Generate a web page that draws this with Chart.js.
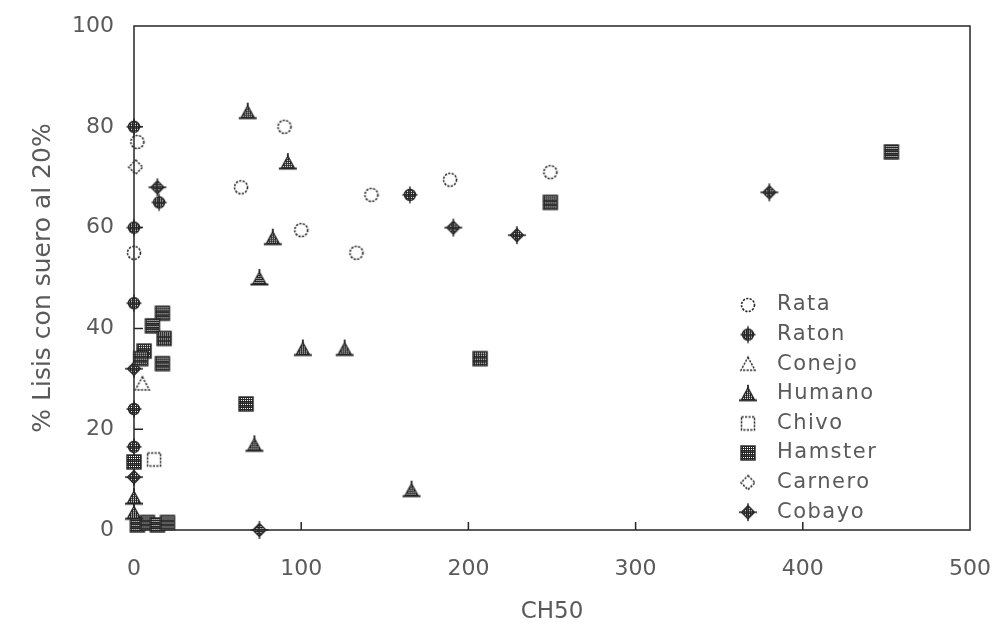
<!DOCTYPE html>
<html>
<head>
<meta charset="utf-8">
<script src="https://cdn.jsdelivr.net/npm/chart.js@4.4.1/dist/chart.umd.min.js"></script>
<style>
  html, body { margin: 0; padding: 0; background: #ffffff; }
  #wrap { width: 1002px; height: 634px; position: relative; }
</style>
</head>
<body>
<div id="wrap"><canvas id="c" width="1002" height="634"></canvas></div>
<script>
// ---- data ----
const seriesLabels = ['Rata', 'Raton', 'Conejo', 'Humano', 'Chivo', 'Hamster', 'Carnero', 'Cobayo'];

const rataX = [0, 2, 64, 90, 100, 133, 142, 189, 249];
const rataY = [55, 77, 68, 80, 59.5, 55, 66.5, 69.5, 71];

const ratonX = [0, 0, 15, 0, 0, 0, 165];
const ratonY = [80, 60, 65, 45, 24, 16.5, 66.5];

const conejoX = [5];
const conejoY = [29];

const humanoX = [68, 92, 83, 75, 101, 126, 72, 166, 0, 0];
const humanoY = [83, 73, 58, 50, 36, 36, 17, 8, 6.5, 3.5];

const chivoX = [12];
const chivoY = [14];

const hamsterX = [453, 249, 207, 67, 17, 11, 18, 6, 17, 4, 0, 2, 8, 14, 20];
const hamsterY = [75, 65, 34, 25, 43, 40.5, 38, 35.5, 33, 34, 13.5, 1, 1.5, 1, 1.5];

const carneroX = [1];
const carneroY = [72];

const cobayoX = [14, 0, 0, 75, 191, 229, 380];
const cobayoY = [68, 32, 10.5, 0, 60, 58.5, 67];

const xTicks = [0, 100, 200, 300, 400, 500];
const yTicks = [0, 20, 40, 60, 80, 100];

const xTitle = 'CH50';
const yTitle = '% Lisis con suero al 20%';

// ---- marker glyphs ----
const ink = '#262626';
function hatch(g) {
  const p = document.createElement('canvas');
  p.width = p.height = 2;
  const q = p.getContext('2d');
  q.fillStyle = '#ffffff'; q.fillRect(0, 0, 2, 2);
  q.fillStyle = ink; q.fillRect(0, 0, 1, 1); q.fillRect(1, 1, 1, 1); q.fillRect(1, 0, 1, 1);
  return g.createPattern(p, 'repeat');
}
function glyph(draw) {
  const s = 22, c = s / 2;
  const cv = document.createElement('canvas');
  cv.width = cv.height = s;
  const g = cv.getContext('2d');
  g.strokeStyle = ink; g.lineWidth = 1.4;
  draw(g, c);
  return cv;
}
const dash = [2.2, 1.3];
const glyphs = {
  Rata: glyph((g, c) => { g.setLineDash(dash); g.lineWidth = 1.6; g.beginPath(); g.arc(c, c, 6.5, 0, Math.PI * 2); g.stroke(); }),
  Raton: glyph((g, c) => {
    g.beginPath(); g.arc(c, c, 5.5, 0, Math.PI * 2); g.fillStyle = hatch(g); g.fill(); g.stroke();
    g.beginPath(); g.moveTo(c, c - 8.5); g.lineTo(c, c + 8.5); g.moveTo(c - 7.5, c); g.lineTo(c + 7.5, c); g.stroke();
  }),
  Conejo: glyph((g, c) => { g.setLineDash(dash); g.lineWidth = 1.5; g.beginPath(); g.moveTo(c, c - 7); g.lineTo(c + 7, c + 6); g.lineTo(c - 7, c + 6); g.closePath(); g.stroke(); }),
  Humano: glyph((g, c) => {
    g.beginPath(); g.moveTo(c, c - 6); g.lineTo(c + 6.5, c + 6); g.lineTo(c - 6.5, c + 6); g.closePath(); g.fillStyle = hatch(g); g.fill(); g.stroke();
    g.lineWidth = 1.8; g.beginPath(); g.moveTo(c - 9, c + 6.5); g.lineTo(c + 9, c + 6.5); g.moveTo(c, c - 9); g.lineTo(c, c - 4); g.stroke();
  }),
  Chivo: glyph((g, c) => { g.lineWidth = 1.5; g.setLineDash(dash); g.strokeRect(c - 6.5, c - 6.5, 13, 13); }),
  Hamster: glyph((g, c) => {
    g.fillStyle = hatch(g); g.fillRect(c - 7, c - 7, 14, 14); g.strokeRect(c - 7, c - 7, 14, 14);
    g.beginPath(); g.moveTo(c - 7, c - 2); g.lineTo(c + 7, c - 2); g.moveTo(c - 7, c + 3); g.lineTo(c + 7, c + 3); g.stroke();
  }),
  Carnero: glyph((g, c) => { g.setLineDash(dash); g.lineWidth = 1.5; g.beginPath(); g.moveTo(c, c - 7); g.lineTo(c + 7, c); g.lineTo(c, c + 7); g.lineTo(c - 7, c); g.closePath(); g.stroke(); }),
  Cobayo: glyph((g, c) => {
    g.beginPath(); g.moveTo(c, c - 6.5); g.lineTo(c + 6.5, c); g.lineTo(c, c + 6.5); g.lineTo(c - 6.5, c); g.closePath(); g.fillStyle = hatch(g); g.fill(); g.stroke();
    g.beginPath(); g.moveTo(c, c - 9); g.lineTo(c, c + 9); g.moveTo(c - 9, c); g.lineTo(c + 9, c); g.stroke();
  })
};

function pts(xs, ys) { return xs.map((x, i) => ({ x: x, y: ys[i] })); }
const seriesData = [
  pts(rataX, rataY), pts(ratonX, ratonY), pts(conejoX, conejoY), pts(humanoX, humanoY),
  pts(chivoX, chivoY), pts(hamsterX, hamsterY), pts(carneroX, carneroY), pts(cobayoX, cobayoY)
];

const datasets = seriesLabels.map((lab, i) => ({
  label: lab,
  data: seriesData[i],
  pointStyle: glyphs[lab],
  pointRadius: 8,
  pointHoverRadius: 8,
  clip: false,
  showLine: false
}));

const textColor = '#5a5a5a';
const tickFont = { family: 'DejaVu Sans', size: 22 };

// frame, inner ticks and in-plot legend
const framePlugin = {
  id: 'frame',
  beforeDraw(chart) {
    const ctx = chart.ctx;
    ctx.save(); ctx.fillStyle = '#ffffff'; ctx.fillRect(0, 0, chart.width, chart.height); ctx.restore();
  },
  beforeDatasetsDraw(chart) {
    const { ctx, chartArea: a, scales } = chart;
    ctx.save();
    ctx.strokeStyle = ink; ctx.lineWidth = 1.5;
    ctx.strokeRect(a.left, a.top, a.right - a.left, a.bottom - a.top);
    ctx.beginPath();
    xTicks.slice(1, -1).forEach(v => { const px = scales.x.getPixelForValue(v); ctx.moveTo(px, a.bottom); ctx.lineTo(px, a.bottom - 8); });
    yTicks.slice(1, -1).forEach(v => { const py = scales.y.getPixelForValue(v); ctx.moveTo(a.left, py); ctx.lineTo(a.left + 9, py); });
    ctx.stroke();
    ctx.restore();
  },
  afterDraw(chart) {
    const { ctx, chartArea: a } = chart;
    ctx.save();
    const mx = a.right - 222, ty0 = a.bottom - 225, step = 29.6;
    ctx.font = '21px "DejaVu Sans"';
    ctx.fillStyle = textColor;
    ctx.textBaseline = 'middle';
    chart.data.datasets.forEach((ds, i) => {
      const y = ty0 + i * step;
      const g = ds.pointStyle;
      ctx.drawImage(g, mx - g.width / 2, y - g.height / 2);
      try { ctx.letterSpacing = '1.5px'; } catch (e) {}
      ctx.fillText(ds.label, mx + 29, y);
      try { ctx.letterSpacing = '0px'; } catch (e) {}
    });
    ctx.restore();
  }
};

new Chart(document.getElementById('c'), {
  type: 'scatter',
  data: { datasets: datasets },
  options: {
    responsive: false,
    animation: false,
    events: [],
    layout: { padding: { left: 0, right: 32, top: 26, bottom: 0 } },
    plugins: { legend: { display: false }, tooltip: { enabled: false } },
    scales: {
      x: {
        type: 'linear', min: 0, max: 500,
        afterBuildTicks: s => { s.ticks = xTicks.map(v => ({ value: v })); },
        afterFit: s => { s.height = 104; s.paddingLeft = 0; s.paddingRight = 0; },
        grid: { display: false },
        border: { display: false },
        ticks: { color: textColor, font: tickFont, padding: 18, maxRotation: 0 },
        title: { display: true, text: xTitle, color: textColor, font: { family: 'DejaVu Sans', size: 23 }, padding: { top: 0, bottom: 8 } }
      },
      y: {
        type: 'linear', min: 0, max: 100,
        afterBuildTicks: s => { s.ticks = yTicks.map(v => ({ value: v })); },
        afterFit: s => { s.width = 134; s.paddingTop = 0; s.paddingBottom = 0; },
        grid: { display: false },
        border: { display: false },
        ticks: { color: textColor, font: tickFont, padding: 12 },
        title: { display: true, text: yTitle, color: textColor, font: { family: 'DejaVu Sans', size: 25 }, padding: { top: 28, bottom: 0 } }
      }
    }
  },
  plugins: [framePlugin]
});
</script>
</body>
</html>
